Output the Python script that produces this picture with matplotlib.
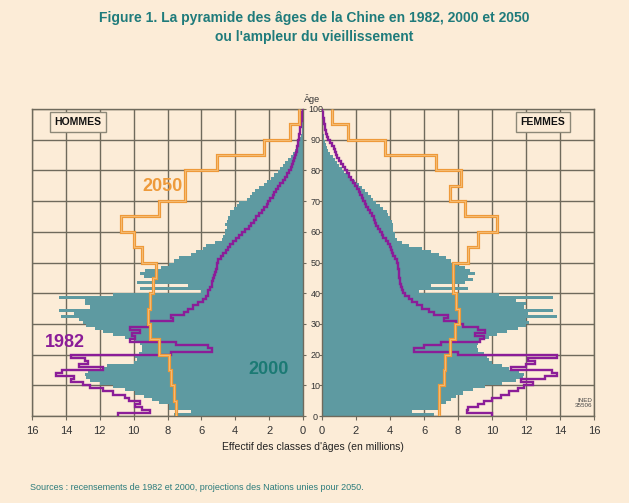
import numpy as np
import matplotlib
matplotlib.use("Agg")
import matplotlib.pyplot as plt

plt.rcParams['font.family'] = ['Liberation Sans', 'DejaVu Sans']

# ages 0..99, single years
ages = list(range(100))
age_edges_1y = list(range(101))
age_edges_5y = [0, 5, 10, 15, 20, 25, 30, 35, 40, 45, 50, 55, 60, 65, 70, 75, 80, 85, 90, 95, 100]

# 2000 census (millions)
hommes_2000 = [
    7.6, 6.6, 7.9, 7.9, 8.5, 8.9, 9.4, 9.9, 10.5, 11.2,
    12.0, 12.6, 12.8, 12.9, 12.7, 11.8, 11.6, 10.0, 9.8, 9.9,
    9.7, 9.5, 9.5, 9.6, 9.9, 10.5, 11.2, 11.8, 12.3, 12.8,
    13.0, 13.2, 14.3, 13.5, 14.4, 12.6, 12.9, 12.9, 14.4, 11.2,
    6.0, 9.6, 6.8, 9.8, 8.9, 9.4, 9.6, 9.3, 8.4, 7.9,
    7.6, 7.3, 6.6, 6.3, 5.9, 5.7, 5.2, 4.8, 4.7, 4.6,
    4.6, 4.5, 4.6, 4.5, 4.4, 4.3, 4.3, 4.1, 3.9, 3.8,
    3.3, 3.1, 3.0, 2.85, 2.6, 2.3, 2.1, 1.9, 1.7, 1.5,
    1.35, 1.2, 1.05, 0.9, 0.72, 0.6, 0.48, 0.38, 0.3, 0.22,
    0.15, 0.11, 0.08, 0.06, 0.04, 0.03, 0.02, 0.015, 0.01, 0.01,
]
femmes_2000 = [
    6.6, 5.3, 6.8, 7.0, 7.3, 7.6, 7.9, 8.3, 8.9, 9.6,
    10.6, 11.4, 11.8, 11.9, 11.6, 11.0, 10.6, 10.0, 9.8, 9.7,
    9.5, 9.2, 9.1, 9.2, 9.3, 9.8, 10.3, 10.9, 11.5, 12.0,
    12.2, 12.0, 13.8, 12.1, 13.6, 11.9, 12.0, 11.4, 13.6, 10.4,
    5.7, 8.6, 6.4, 8.4, 8.9, 8.6, 9.0, 8.7, 8.4, 8.0,
    7.6, 7.3, 6.9, 6.4, 5.9, 5.1, 4.7, 4.4, 4.3, 4.3,
    4.2, 4.2, 4.2, 4.1, 4.0, 3.9, 3.8, 3.6, 3.4, 3.2,
    3.0, 2.9, 2.7, 2.55, 2.35, 2.15, 1.95, 1.7, 1.5, 1.3,
    1.16, 1.02, 0.9, 0.77, 0.62, 0.48, 0.35, 0.28, 0.22, 0.17,
    0.13, 0.1, 0.07, 0.05, 0.04, 0.03, 0.02, 0.015, 0.01, 0.01,
]

# 1982 census (millions)
hommes_1982 = [
    10.9, 9.05, 9.5, 9.9, 9.6, 10.3, 10.5, 11.2, 11.8, 12.6,
    13.0, 13.7, 13.5, 14.6, 14.2, 11.8, 13.2, 12.7, 12.9, 13.7,
    7.8, 5.4, 5.6, 7.5, 10.2, 9.9, 10.1, 9.6, 10.2, 9.15,
    9.1, 7.7, 7.8, 7.0, 6.8, 6.5, 6.2, 5.9, 5.7, 5.6,
    5.6, 5.5, 5.4, 5.35, 5.3, 5.25, 5.2, 5.15, 5.1, 5.05,
    5.0, 4.85, 4.7, 4.55, 4.4, 4.3, 4.15, 3.95, 3.8, 3.6,
    3.4, 3.2, 3.05, 2.9, 2.75, 2.6, 2.45, 2.3, 2.15, 2.05,
    1.95, 1.8, 1.7, 1.58, 1.46, 1.33, 1.2, 1.05, 0.92, 0.8,
    0.7, 0.64, 0.58, 0.52, 0.47, 0.42, 0.38, 0.34, 0.3, 0.27,
    0.24, 0.21, 0.18, 0.15, 0.12, 0.1, 0.08, 0.06, 0.04, 0.02,
]
femmes_1982 = [
    10.0, 8.5, 8.6, 9.2, 9.5, 10.0, 10.5, 11.0, 11.5, 11.9,
    12.4, 11.7, 13.1, 13.8, 13.5, 11.1, 12.0, 12.5, 12.1, 13.8,
    8.0, 5.4, 6.0, 7.0, 9.3, 9.5, 9.0, 9.6, 9.2, 8.3,
    7.9, 7.2, 7.4, 6.6, 6.3, 5.9, 5.6, 5.3, 5.1, 4.9,
    4.75, 4.7, 4.65, 4.6, 4.6, 4.55, 4.5, 4.5, 4.45, 4.45,
    4.4, 4.3, 4.2, 4.1, 4.05, 4.0, 3.9, 3.75, 3.6, 3.5,
    3.4, 3.3, 3.2, 3.1, 3.05, 2.95, 2.85, 2.7, 2.6, 2.5,
    2.44, 2.35, 2.25, 2.15, 2.05, 1.95, 1.85, 1.7, 1.6, 1.48,
    1.36, 1.25, 1.12, 1.0, 0.9, 0.82, 0.77, 0.68, 0.58, 0.48,
    0.37, 0.3, 0.25, 0.2, 0.15, 0.12, 0.09, 0.06, 0.04, 0.02,
]

# 2050 projection, 5-year groups (millions per single year)
hommes_2050 = [7.5, 7.6, 7.8, 7.9, 8.5, 9.05, 9.15, 9.05, 8.85, 8.65,
               9.5, 10.0, 10.75, 8.5, 6.95, 6.95, 5.05, 2.3, 0.77, 0.25]
femmes_2050 = [6.9, 6.9, 7.2, 7.25, 7.5, 7.8, 8.05, 7.9, 7.7, 7.7,
               8.6, 9.2, 10.3, 8.4, 7.55, 8.2, 6.7, 3.7, 1.55, 0.6]

x_ticks = [0, 2, 4, 6, 8, 10, 12, 14, 16]
age_ticks = [0, 10, 20, 30, 40, 50, 60, 70, 80, 90, 100]

BG = '#fcecd7'
TEAL = '#5e9aa1'
GRID = '#6f6a5c'
PURPLE = '#8b1d98'
ORANGE = '#ee9a3a'
TITLE_C = '#1f7b7b'

W, H = 629, 503
fig = plt.figure(figsize=(W / 100, H / 100), dpi=100, facecolor=BG)

ax_h = fig.add_axes([32 / W, 1 - 416 / H, 271 / W, 307 / H])
ax_f = fig.add_axes([322 / W, 1 - 416 / H, 272 / W, 307 / H])


def draw_side(ax, v2000, v1982, v2050):
    ax.set_facecolor(BG)
    ax.barh(ages, v2000, height=1.0, align='edge', color=TEAL, zorder=2)
    ax.stairs(v1982, age_edges_1y, orientation='horizontal', baseline=None,
              color=PURPLE, lw=1.7, zorder=3)
    ax.stairs(v2050, age_edges_5y, orientation='horizontal', baseline=None,
              color=ORANGE, lw=2.3, zorder=4)
    ax.stairs(v2050, age_edges_5y, orientation='horizontal', baseline=None,
              color='#f7c98a', lw=0.5, zorder=4)
    ax.set_ylim(0, 100)
    ax.set_xticks(x_ticks)
    ax.set_yticks(age_ticks)
    ax.grid(True, color=GRID, lw=1.0, zorder=0)
    ax.set_axisbelow(True)
    for s in ax.spines.values():
        s.set_color(GRID)
        s.set_linewidth(1.0)
    ax.tick_params(axis='x', direction='out', length=3, width=0.8, color=GRID,
                   labelsize=8, labelcolor='#333333', pad=4)
    ax.tick_params(axis='y', direction='out', length=2.5, width=0.8, color=GRID)


draw_side(ax_h, hommes_2000, hommes_1982, hommes_2050)
draw_side(ax_f, femmes_2000, femmes_1982, femmes_2050)

ax_h.set_xlim(16, 0)
ax_f.set_xlim(0, 16)

ax_h.yaxis.tick_right()
ax_h.tick_params(axis='y', labelsize=6.5, labelcolor='#333333', pad=6.5)
for lab in ax_h.get_yticklabels():
    lab.set_horizontalalignment('center')
ax_f.tick_params(axis='y', labelleft=False)

# series labels
ax_h.text(8.3, 74.8, '2050', color=ORANGE, fontsize=13, fontweight='bold',
          ha='center', va='center', zorder=5)
ax_h.text(14.05, 23.8, '1982', color=PURPLE, fontsize=13, fontweight='bold',
          ha='center', va='center', zorder=5)
ax_h.text(2.05, 15.0, '2000', color='#1b7a74', fontsize=13, fontweight='bold',
          ha='center', va='center', zorder=5)

box = dict(boxstyle='square,pad=0.45', fc=BG, ec='#8c8878', lw=1.0)
ax_h.text(13.3, 95.8, 'HOMMES', fontsize=7.5, fontweight='bold', color='#111111',
          ha='center', va='center', bbox=box, zorder=6)
ax_f.text(13.0, 95.8, 'FEMMES', fontsize=7.5, fontweight='bold', color='#111111',
          ha='center', va='center', bbox=box, zorder=6)

ax_f.text(15.9, 4.2, 'INED\n35506', fontsize=4.5, color='#444444', ha='right',
          va='center', linespacing=1.1, zorder=6)

fig.text(0.5, 1 - 18 / H, 'Figure 1. La pyramide des âges de la Chine en 1982, 2000 et 2050',
         ha='center', va='center', fontsize=10, fontweight='bold', color=TITLE_C)
fig.text(0.5, 1 - 37 / H, "ou l'ampleur du vieillissement",
         ha='center', va='center', fontsize=10, fontweight='bold', color=TITLE_C)
fig.text(312.5 / W, 1 - 99 / H, 'Âge', ha='center', va='center', fontsize=6.5, color='#333333')
fig.text(313 / W, 1 - 447 / H, "Effectif des classes d'âges (en millions)",
         ha='center', va='center', fontsize=7.5, color='#222222')
fig.text(30 / W, 1 - 487 / H,
         'Sources : recensements de 1982 et 2000, projections des Nations unies pour 2050.',
         ha='left', va='center', fontsize=6.5, color='#2c7c7c')

fig.savefig('out.png', dpi=100, facecolor=BG)
